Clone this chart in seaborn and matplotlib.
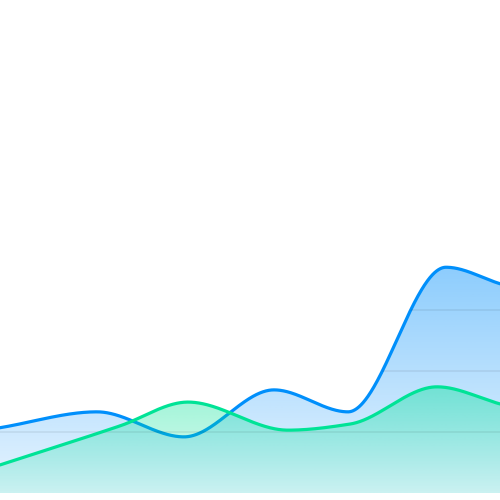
import numpy as np
import pandas as pd
import matplotlib
matplotlib.use("Agg")
import matplotlib.pyplot as plt
import seaborn as sns
from matplotlib.colors import to_rgb
from matplotlib.patches import Polygon

# ---- data ----
blue_x = [0, 97, 184, 274, 348, 446, 500]
blue_y = [10.7, 13.3, 9.2, 16.9, 13.3, 37.0, 34.3]
green_x = [0, 120, 188, 288, 350, 437, 500]
green_y = [4.6, 11.0, 14.9, 10.3, 11.3, 17.4, 14.6]
grid_levels = [10, 20, 30, 40, 50, 60, 70, 80]

BLUE = "#008FFB"
GREEN = "#00E396"


def pchip(x, y, xs):
    """Monotone cubic (smooth) rendering through the data points."""
    x = np.asarray(x, float)
    y = np.asarray(y, float)
    h = np.diff(x)
    dl = np.diff(y) / h
    n = len(x)
    d = np.zeros(n)
    d[0] = dl[0]
    d[-1] = dl[-1]
    for k in range(1, n - 1):
        if dl[k - 1] * dl[k] <= 0:
            d[k] = 0.0
        else:
            w1 = 2 * h[k] + h[k - 1]
            w2 = h[k] + 2 * h[k - 1]
            d[k] = (w1 + w2) / (w1 / dl[k - 1] + w2 / dl[k])
    i = np.clip(np.searchsorted(x, xs, side="right") - 1, 0, n - 2)
    t = (xs - x[i]) / h[i]
    h00 = 2 * t**3 - 3 * t**2 + 1
    h10 = t**3 - 2 * t**2 + t
    h01 = -2 * t**3 + 3 * t**2
    h11 = t**3 - t**2
    return h00 * y[i] + h10 * h[i] * d[i] + h01 * y[i + 1] + h11 * h[i] * d[i + 1]


xs = np.linspace(0, 500, 1001)
yb = pchip(blue_x, blue_y, xs)
yg = pchip(green_x, green_y, xs)
df = pd.DataFrame({"x": xs, "blue": yb, "green": yg})

sns.set_theme(style="white")
fig = plt.figure(figsize=(5, 5), dpi=100)
ax = fig.add_axes([0, 7 / 500, 1, 493 / 500])
ax.set_axis_off()

YMAX = 80.8


def gradient_area(ycurve, color, a_top, a_bottom, z):
    verts = np.column_stack([np.r_[xs, xs[::-1]], np.r_[ycurve, np.zeros_like(ycurve)]])
    patch = Polygon(verts, closed=True, transform=ax.transData,
                    facecolor="none", edgecolor="none")
    ax.add_patch(patch)
    img = np.zeros((256, 1, 4))
    img[..., :3] = to_rgb(color)
    img[:, 0, 3] = np.linspace(a_bottom, a_top, 256)
    im = ax.imshow(img, extent=[0, 500, 0, ycurve.max()], origin="lower",
                   aspect="auto", interpolation="bilinear", zorder=z)
    im.set_clip_path(patch)
    return patch


gradient_area(yb, BLUE, 0.45, 0.10, 1)
sns.lineplot(data=df, x="x", y="blue", color=BLUE, lw=2.3, ax=ax, zorder=2,
             solid_capstyle="round")
gradient_area(yg, GREEN, 0.40, 0.12, 3)

# gridlines, visible only inside the filled areas
top = np.maximum(yb, yg)
uverts = np.column_stack([np.r_[xs, xs[::-1]], np.r_[top, np.zeros_like(top)]])
upatch = Polygon(uverts, closed=True, transform=ax.transData,
                 facecolor="none", edgecolor="none")
ax.add_patch(upatch)
gl = ax.hlines(grid_levels, 0, 500, colors=[(0, 0, 0, 0.07)], lw=1.2, zorder=3.5)
gl.set_clip_path(upatch)

sns.lineplot(data=df, x="x", y="green", color=GREEN, lw=2.3, ax=ax, zorder=4,
             solid_capstyle="round")

ax.set_xlim(0, 500)
ax.set_ylim(0, YMAX)
ax.set_xlabel("")
ax.set_ylabel("")
fig.savefig("out.png", dpi=100)
